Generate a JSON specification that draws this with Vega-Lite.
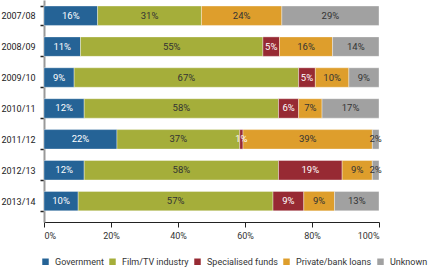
{
  "$schema": "https://vega.github.io/schema/vega-lite/v6.json",
  "width": 335,
  "height": 222,
  "autosize": "none",
  "padding": {"left": 44, "top": 0, "right": 53, "bottom": 48},
  "config": {
    "font": "Roboto",
    "view": {"stroke": null},
    "axis": {"labelFont": "Roboto", "labelFontSize": 9, "labelColor": "#333333"},
    "legend": {"labelFont": "Roboto", "labelFontSize": 9, "labelColor": "#333333", "labelLimit": 300}
  },
  "data": {
    "values": [
      {"year": "2007/08", "cat": "Government", "k": 1, "v": 0.16},
      {"year": "2007/08", "cat": "Film/TV industry", "k": 2, "v": 0.31},
      {"year": "2007/08", "cat": "Private/bank loans", "k": 4, "v": 0.24},
      {"year": "2007/08", "cat": "Unknown", "k": 5, "v": 0.29},
      {"year": "2008/09", "cat": "Government", "k": 1, "v": 0.11},
      {"year": "2008/09", "cat": "Film/TV industry", "k": 2, "v": 0.55},
      {"year": "2008/09", "cat": "Specialised funds", "k": 3, "v": 0.05},
      {"year": "2008/09", "cat": "Private/bank loans", "k": 4, "v": 0.16},
      {"year": "2008/09", "cat": "Unknown", "k": 5, "v": 0.14},
      {"year": "2009/10", "cat": "Government", "k": 1, "v": 0.09},
      {"year": "2009/10", "cat": "Film/TV industry", "k": 2, "v": 0.67},
      {"year": "2009/10", "cat": "Specialised funds", "k": 3, "v": 0.05},
      {"year": "2009/10", "cat": "Private/bank loans", "k": 4, "v": 0.10},
      {"year": "2009/10", "cat": "Unknown", "k": 5, "v": 0.09},
      {"year": "2010/11", "cat": "Government", "k": 1, "v": 0.12},
      {"year": "2010/11", "cat": "Film/TV industry", "k": 2, "v": 0.58},
      {"year": "2010/11", "cat": "Specialised funds", "k": 3, "v": 0.06},
      {"year": "2010/11", "cat": "Private/bank loans", "k": 4, "v": 0.07},
      {"year": "2010/11", "cat": "Unknown", "k": 5, "v": 0.17},
      {"year": "2011/12", "cat": "Government", "k": 1, "v": 0.22},
      {"year": "2011/12", "cat": "Film/TV industry", "k": 2, "v": 0.37},
      {"year": "2011/12", "cat": "Specialised funds", "k": 3, "v": 0.01},
      {"year": "2011/12", "cat": "Private/bank loans", "k": 4, "v": 0.39},
      {"year": "2011/12", "cat": "Unknown", "k": 5, "v": 0.02},
      {"year": "2012/13", "cat": "Government", "k": 1, "v": 0.12},
      {"year": "2012/13", "cat": "Film/TV industry", "k": 2, "v": 0.58},
      {"year": "2012/13", "cat": "Specialised funds", "k": 3, "v": 0.19},
      {"year": "2012/13", "cat": "Private/bank loans", "k": 4, "v": 0.09},
      {"year": "2012/13", "cat": "Unknown", "k": 5, "v": 0.02},
      {"year": "2013/14", "cat": "Government", "k": 1, "v": 0.10},
      {"year": "2013/14", "cat": "Film/TV industry", "k": 2, "v": 0.57},
      {"year": "2013/14", "cat": "Specialised funds", "k": 3, "v": 0.09},
      {"year": "2013/14", "cat": "Private/bank loans", "k": 4, "v": 0.09},
      {"year": "2013/14", "cat": "Unknown", "k": 5, "v": 0.13}
    ]
  },
  "encoding": {
    "y": {
      "field": "year",
      "type": "nominal",
      "title": null,
      "sort": null,
      "scale": {"paddingInner": 0.37, "paddingOuter": 0.277, "align": 0.35},
      "axis": {
        "domainColor": "#999999",
        "domainWidth": 2,
        "tickBand": "extent",
        "tickColor": "#222222",
        "tickSize": 4,
        "tickWidth": 1.5,
        "labelPadding": 5,
        "labelColor": "#222222"
      }
    },
    "order": {"field": "k", "type": "quantitative", "sort": "ascending"}
  },
  "layer": [
    {
      "mark": {"type": "bar", "stroke": "#ffffff", "strokeWidth": 0.6, "strokeOpacity": 0.6},
      "encoding": {
        "x": {
          "field": "v",
          "type": "quantitative",
          "stack": "normalize",
          "title": null,
          "scale": {"domain": [0, 1], "nice": false},
          "axis": {
            "values": [0, 0.2, 0.4, 0.6, 0.8, 1],
            "format": ".0%",
            "grid": false,
            "domainColor": "#222222",
            "tickColor": "#222222",
            "tickSize": 5,
            "labelPadding": 4
          }
        },
        "color": {
          "field": "cat",
          "type": "nominal",
          "sort": ["Government", "Film/TV industry", "Specialised funds", "Private/bank loans", "Unknown"],
          "scale": {
            "domain": ["Government", "Film/TV industry", "Specialised funds", "Private/bank loans", "Unknown"],
            "range": ["#256396", "#a5ae3a", "#972a33", "#de9e2c", "#a1a1a1"]
          },
          "legend": {
            "title": null,
            "orient": "none",
            "direction": "horizontal",
            "legendX": -3,
            "legendY": 257,
            "symbolType": "square",
            "symbolSize": 42,
            "symbolStrokeWidth": 0,
            "symbolOpacity": 1,
            "columnPadding": 4,
            "labelOffset": 5
          }
        }
      }
    },
    {
      "mark": {"type": "text", "fontSize": 9.5},
      "encoding": {
        "x": {"field": "v", "type": "quantitative", "stack": "normalize", "bandPosition": 0.5},
        "text": {"field": "v", "type": "quantitative", "format": ".0%"},
        "color": {
          "field": "cat",
          "type": "nominal",
          "sort": ["Government", "Film/TV industry", "Specialised funds", "Private/bank loans", "Unknown"],
          "scale": {
            "domain": ["Government", "Film/TV industry", "Specialised funds", "Private/bank loans", "Unknown"],
            "range": ["#ffffff", "#333333", "#ffffff", "#333333", "#333333"]
          },
          "legend": null
        }
      }
    }
  ],
  "resolve": {"scale": {"color": "independent"}}
}
